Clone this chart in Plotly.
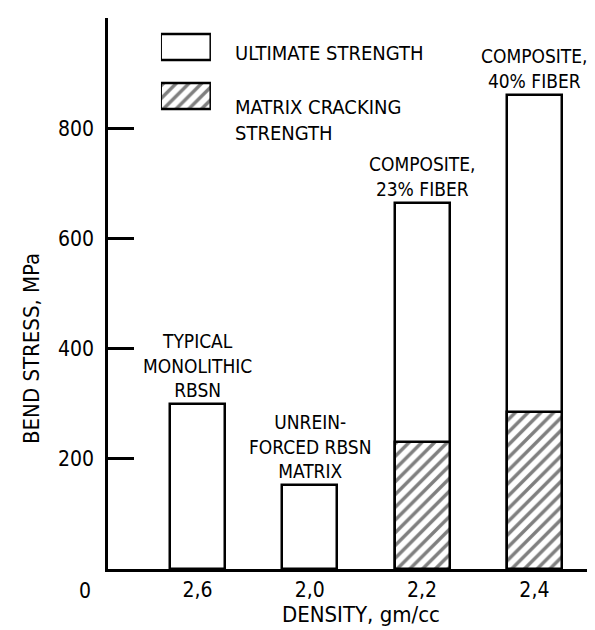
import plotly.graph_objects as go

# ---- data ----
density_labels = ["2,6", "2,0", "2,2", "2,4"]
bar_labels = ["TYPICAL<br>MONOLITHIC<br>RBSN",
              "UNREIN-<br>FORCED RBSN<br>MATRIX",
              "COMPOSITE,<br>23% FIBER",
              "COMPOSITE,<br>40% FIBER"]
ultimate_strength = [300, 152, 665, 860]
matrix_cracking = [None, None, 230, 285]
y_ticks = [200, 400, 600, 800, 1000]
y_ticktext = ["200", "400", "600", "800", ""]
legend_names = ["ULTIMATE STRENGTH", "MATRIX CRACKING<br>STRENGTH"]
x_title = "DENSITY, gm/cc"
y_title = "BEND STRESS, MPa"

FONT = "DejaVu Sans Condensed, Liberation Sans Narrow, sans-serif"
xpos = list(range(len(density_labels)))
HATCH = dict(shape="/", fgcolor="black", bgcolor="white", size=9, solidity=0.38)

fig = go.Figure()
fig.add_trace(go.Bar(
    x=xpos, y=ultimate_strength, width=0.49,
    marker=dict(color="white", line=dict(color="black", width=2.5)),
    showlegend=False, hoverinfo="skip"))
fig.add_trace(go.Bar(
    x=xpos, y=matrix_cracking, width=0.49,
    marker=dict(color="white", line=dict(color="black", width=2.5), pattern=HATCH),
    showlegend=False, hoverinfo="skip"))

# legend swatches in an inset axes
fig.add_trace(go.Bar(
    x=[1], y=[0], orientation="h", width=0.525, xaxis="x2", yaxis="y2",
    marker=dict(color="white", line=dict(color="black", width=2.5)),
    showlegend=False, hoverinfo="skip"))
fig.add_trace(go.Bar(
    x=[1], y=[1], orientation="h", width=0.525, xaxis="x2", yaxis="y2",
    marker=dict(color="white", line=dict(color="black", width=2.5), pattern=HATCH),
    showlegend=False, hoverinfo="skip"))

annotations = []
for i, lab in enumerate(bar_labels):
    annotations.append(dict(x=xpos[i], y=ultimate_strength[i], text=lab,
                            showarrow=False, yanchor="bottom", yshift=1,
                            font=dict(family=FONT, size=19, color="black")))
annotations.append(dict(x=0.2525, y=0.9365, xref="paper", yref="paper",
                        text=legend_names[0], showarrow=False, xanchor="left",
                        yanchor="middle", font=dict(family=FONT, size=20, color="black")))
annotations.append(dict(x=0.2525, y=0.8403, xref="paper", yref="paper",
                        text=legend_names[1], showarrow=False, xanchor="left",
                        yanchor="top", yshift=13, align="left",
                        font=dict(family=FONT, size=20, color="black")))
annotations.append(dict(x=0, y=0, xref="paper", yref="y", text="0", showarrow=False,
                        xanchor="center", yanchor="middle", xshift=-23, yshift=-22,
                        font=dict(family=FONT, size=21, color="black")))
annotations.append(dict(x=0.511, y=-0.0817, xref="paper", yref="paper", text=x_title,
                        showarrow=False, xanchor="center", yanchor="middle",
                        font=dict(family=FONT, size=22, color="black")))
annotations.append(dict(x=-0.1535, y=0.3993, xref="paper", yref="paper", text=y_title,
                        showarrow=False, xanchor="center", yanchor="middle", textangle=-90,
                        font=dict(family=FONT, size=22, color="black")))

fig.update_layout(
    width=595, height=630,
    margin=dict(l=100, r=0, t=10, b=69),
    paper_bgcolor="white", plot_bgcolor="white",
    barmode="overlay", bargap=0,
    font=dict(family=FONT, size=20, color="black"),
    xaxis=dict(range=[-0.797, 3.611], tickvals=xpos, ticktext=density_labels,
               showline=True, linecolor="black", linewidth=2.5,
               showgrid=False, zeroline=False, ticks="",
               tickfont=dict(family=FONT, size=21)),
    yaxis=dict(range=[0, 1000], tickvals=y_ticks, ticktext=y_ticktext,
               showline=True, linecolor="black", linewidth=2.5,
               showgrid=False, zeroline=False,
               ticks="inside", ticklen=26, tickwidth=2.5, tickcolor="black",
               ticklabelstandoff=7,
               tickfont=dict(family=FONT, size=21)),
    xaxis2=dict(domain=[0.107, 0.208], range=[0, 1], visible=False, anchor="y2"),
    yaxis2=dict(domain=[0.8127, 0.9923], range=[1.5, -0.5], visible=False, anchor="x2"),
    annotations=annotations,
)

fig.write_html("out.html")
